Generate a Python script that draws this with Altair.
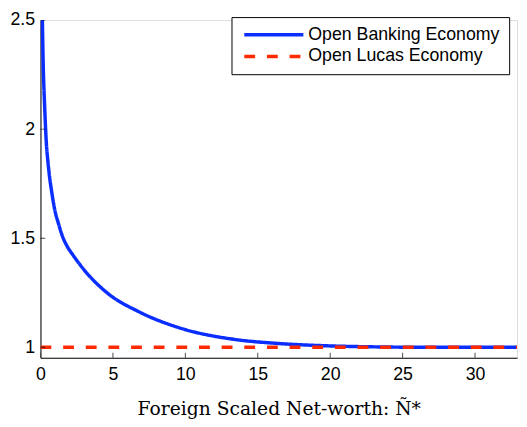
import altair as alt
import pandas as pd

# Data
banking_x = [0.13, 0.18, 0.29, 0.41, 0.5, 0.61, 0.78, 0.97, 1.25, 1.54, 1.85, 2.22, 2.6, 3.01, 4.71, 6.76, 9.7, 13.3, 16.3, 19.7, 23.0, 27.0, 32.9]
banking_y = [2.50, 2.32, 2.10, 1.93, 1.86, 1.79, 1.71, 1.635, 1.565, 1.505, 1.462, 1.425, 1.39, 1.355, 1.244, 1.164, 1.087, 1.037, 1.018, 1.007, 1.002, 1.0, 1.0]
lucas_x = [0.0, 32.9]
lucas_y = [1.0, 1.0]
series_names = ["Open Banking Economy", "Open Lucas Economy"]
x_ticks = [0, 5, 10, 15, 20, 25, 30]
y_ticks = [1, 1.5, 2, 2.5]
x_domain = [0, 32.9]
y_domain = [0.952, 2.5]

df_b = pd.DataFrame({"x": banking_x, "y": banking_y, "series": series_names[0]})
df_l = pd.DataFrame({"x": lucas_x, "y": lucas_y, "series": series_names[1]})
df_xt = pd.DataFrame({"x": x_ticks})
df_yt = pd.DataFrame({"y": y_ticks})

colors = ["#0a2eff", "#ff2a00"]

xs = alt.Scale(domain=x_domain, nice=False, zero=False)
ys = alt.Scale(domain=y_domain, nice=False, zero=False)

color_enc = alt.Color(
    "series:N",
    scale=alt.Scale(domain=series_names, range=colors),
    title=None,
    legend=alt.Legend(
        orient="none",
        legendX=194,
        legendY=-3,
        symbolType="stroke",
        symbolSize=3600,
        symbolStrokeWidth=3.5,
        labelFontSize=18,
        labelFont="Liberation Sans",
        labelColor="black",
        labelOffset=3,
        symbolOffset=2,
        padding=9,
        rowPadding=4,
        clipHeight=18,
        strokeColor="black",
        fillColor="white",
        labelLimit=400,
    ),
)
dash_enc = alt.StrokeDash(
    "series:N",
    scale=alt.Scale(domain=series_names, range=[[1, 0], [11, 12]]),
    title=None,
    legend=None,
)

x_axis = alt.Axis(
    values=x_ticks,
    title="Foreign Scaled Net-worth: Ñ*",
    titleFont="DejaVu Serif",
    titleFontSize=19,
    titleFontWeight="normal",
    titleColor="black",
    titlePadding=17,
    labelFont="Liberation Sans",
    labelFontSize=18,
    labelColor="black",
    labelPadding=8,
    ticks=False,
    grid=False,
    domainColor="black",
    labelFlush=False,
)
y_axis = alt.Axis(
    values=y_ticks,
    format="~g",
    title=None,
    labelFont="Liberation Sans",
    labelFontSize=18,
    labelColor="black",
    labelPadding=6,
    ticks=False,
    grid=False,
    domainColor="black",
    labelFlush=False,
)

blue = alt.Chart(df_b).mark_line(strokeWidth=3.5, interpolate="monotone", clip=True).encode(
    x=alt.X("x:Q", scale=xs, axis=x_axis),
    y=alt.Y("y:Q", scale=ys, axis=y_axis),
    color=color_enc,
    strokeDash=dash_enc,
)
red = alt.Chart(df_l).mark_line(strokeWidth=3.5, clip=True).encode(
    x=alt.X("x:Q", scale=xs),
    y=alt.Y("y:Q", scale=ys),
    color=color_enc,
    strokeDash=dash_enc,
)
xt = alt.Chart(df_xt).mark_tick(orient="vertical", size=10, thickness=1, color="black", clip=True).encode(
    x=alt.X("x:Q", scale=xs),
    y=alt.datum(y_domain[0]),
)
yt = alt.Chart(df_yt).mark_tick(orient="horizontal", size=10, thickness=1, color="black", clip=True).encode(
    y=alt.Y("y:Q", scale=ys),
    x=alt.datum(x_domain[0]),
)

chart = (
    alt.layer(blue, red, xt, yt)
    .properties(
        width=484,
        height=343,
        autosize=alt.AutoSizeParams(type="none"),
        padding={"left": 33, "top": 9, "right": 2, "bottom": 62},
    )
    .configure_view(stroke=None)
    .configure(background="white")
)

chart.save("out.html", embed_options={"renderer": "svg", "actions": False})
